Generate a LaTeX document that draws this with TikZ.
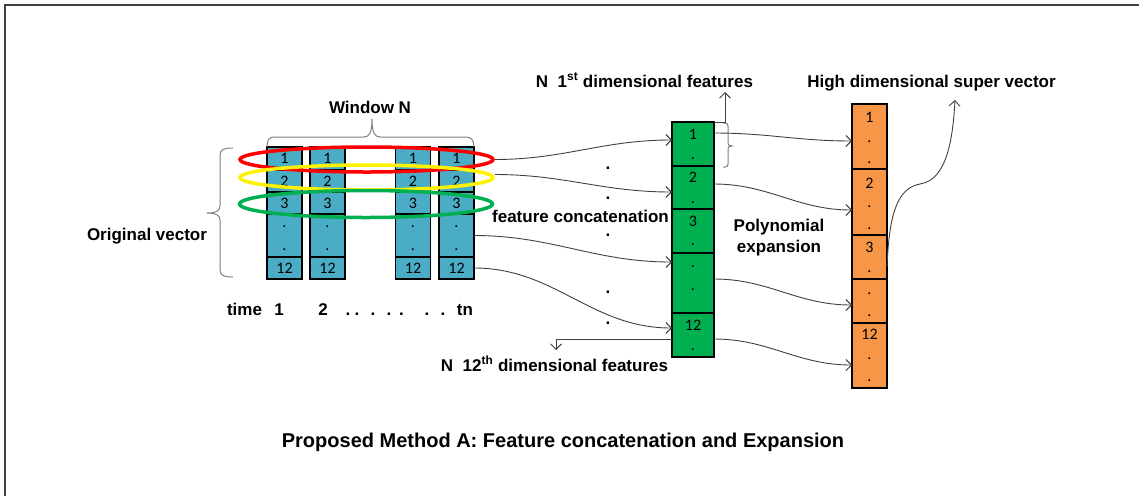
\documentclass[tikz,border=0pt]{standalone}
\usepackage{fontspec}
\setmainfont{Liberation Sans}
\newfontfamily\numfont{Carlito}
\usetikzlibrary{shapes.geometric,arrows.meta,calc}

\definecolor{cellblue}{HTML}{4BACC6}
\definecolor{cellgreen}{HTML}{00B050}
\definecolor{cellorange}{HTML}{F79646}
\definecolor{linkgray}{HTML}{404040}
\definecolor{bracegray}{HTML}{808080}

\begin{document}
\begin{tikzpicture}[x=1pt,y=-1pt,
  cellbase/.style={draw=black, line width=1.2pt, inner sep=0pt, outer sep=0pt,
    font=\numfont\fontsize{16}{18}\selectfont},
  bcell/.style={cellbase, fill=cellblue, minimum width=35pt},
  gcell/.style={cellbase, fill=cellgreen, minimum width=42pt},
  ocell/.style={cellbase, fill=cellorange, minimum width=35pt},
  num/.style={inner sep=0pt, font=\numfont\fontsize{16}{18}\selectfont},
  lbl/.style={inner sep=0pt, anchor=base, font=\fontsize{17}{21}\selectfont\bfseries},
  link/.style={draw=linkgray, line width=0.9pt, -{Straight Barb[length=5.5pt,width=11pt]}},
  ring/.style={ellipse, draw=#1, line width=3.5pt, minimum width=253pt,
    minimum height=25pt, inner sep=0pt},
  brc/.style={draw=bracegray, line width=1pt},
]
\useasboundingbox (0,0) rectangle (1139,496);

% frame
\draw[line width=2pt, draw=linkgray] (5,496) -- (5,5) -- (1139,5);

% original vectors, one column per time step
\foreach \c/\x in {1/284.5,2/327.5,3/413,4/456.5}{
  \node[bcell, minimum height=23pt] (b\c-1) at (\x,158.5) {1};
  \node[bcell, minimum height=22pt] (b\c-2) at (\x,181) {2};
  \node[bcell, minimum height=22pt] (b\c-3) at (\x,203) {3};
  \node[bcell, minimum height=43pt] (b\c-4) at (\x,235.5) {};
  \node[bcell, minimum height=22pt] (b\c-5) at (\x,268) {12};
  \node[num] (b\c-d1) at (\x,227) {.};
  \node[num] (b\c-d2) at (\x,250) {.};
}

% rings grouping equal dimensions across the window
\node[ring=red] (ringA) at (366.5,159.5) {};
\node[ring=yellow] (ringB) at (366.5,177.5) {};
\node[ring=cellgreen, minimum height=27pt] (ringC) at (366,204) {};

% concatenated feature column
\node[gcell, minimum height=44pt] (g1) at (693,144) {};
\node[gcell, minimum height=43pt] (g2) at (693,187.5) {};
\node[gcell, minimum height=44pt] (g3) at (693,231) {};
\node[gcell, minimum height=60pt] (g4) at (693,283) {};
\node[gcell, minimum height=44pt] (g5) at (693,335) {};
\foreach \n/\t/\y in {gl1/1/134, gd1/./159, gl2/2/177, gd2/./203, gl3/3/221,
    gd3/./245, gd4a/./267, gd4b/./290, gl5/12/325, gd5/./350}
  \node[num] (\n) at (693,\y) {\t};

% expanded super vector
\node[ocell, minimum height=65pt] (o1) at (869.5,136.5) {};
\node[ocell, minimum height=66pt] (o2) at (869.5,202) {};
\node[ocell, minimum height=44pt] (o3) at (869.5,257) {};
\node[ocell, minimum height=44pt] (o4) at (869.5,301) {};
\node[ocell, minimum height=65pt] (o5) at (869.5,355.5) {};
\foreach \n/\t/\y in {ol1/1/117, od1a/./142, od1b/./163, ol2/2/183, od2a/./207,
    od2b/./229, ol3/3/247, od3/./272, od4a/./294, od4b/./316, ol5/12/334,
    od5a/./359, od5b/./381}
  \node[num] (\n) at (869.5,\y) {\t};

% braces
\draw[brc] (267,147) .. controls (267,140) and (269,137) .. (274,137) -- (364,137)
  .. controls (369,137) and (372,133) .. (372,119)
  .. controls (372,133) and (375,137) .. (380,137) -- (466,137)
  .. controls (471,137) and (474,140) .. (474,147);
\draw[brc] (233,148) .. controls (225,148) and (220,149) .. (220,155) -- (220,206)
  .. controls (220,211) and (216,213) .. (207,213)
  .. controls (216,213) and (220,215) .. (220,220) -- (220,270)
  .. controls (220,276) and (225,277) .. (233,277);
\draw[brc] (723,123) -- (725,123) .. controls (727,123) and (728,124) .. (728,126)
  -- (728,143) .. controls (728,145) and (729,146) .. (732,146)
  .. controls (729,146) and (728,147) .. (728,149) -- (728,164)
  .. controls (728,166) and (727,167) .. (725,167) -- (723,167);

% labels
\node[lbl] (winN) at (370,113) {Window N};
\node[lbl] (orig) at (147,240) {Original vector};
\node[lbl] (feat1) at (644.5,87) {N\ \ 1\textsuperscript{st} dimensional features};
\node[lbl] (hdsv) at (931.5,87) {High dimensional super vector};
\node[lbl] (fcat) at (580.5,222) {feature concatenation};
\node[lbl, align=center] (poly) at (779,252) {Polynomial\\expansion};
\node[lbl] (feat12) at (554.5,371) {N\ \ 12\textsuperscript{th} dimensional features};
\node[lbl] (tlab) at (244.5,315) {time};
\node[lbl] (t1) at (279,315) {1};
\node[lbl] (t2) at (323,315) {2};
\foreach \i/\x in {1/348,2/357,3/373,4/389,5/401.5,6/427,7/443}
  \node[lbl] (tdot\i) at (\x,315) {.};
\node[lbl] (tn) at (465,315) {tn};
\node[lbl, font=\fontsize{20}{24}\selectfont\bfseries] (title) at (563,447)
  {Proposed Method A: Feature concatenation and Expansion};

% concatenation dots
\foreach \i/\y in {1/168,2/198,3/235,4/292,5/323}
  \node[lbl, anchor=center] (cdot\i) at (608,\y) {.};

% connectors: window columns -> concatenated features
\draw[link] (ringA.east) to[out=0,in=180] ([yshift=4pt]g1.west);
\draw[link] ([yshift=3pt]ringB.east) to[out=0,in=180] ([yshift=-4.5pt]g2.west);
\draw[link] (b4-4.east) to[out=0,in=180] ([yshift=21pt]g4.west);
\draw[link] (b4-5.east) to[out=0,in=180] ([yshift=7pt]g5.west);

% connectors: concatenated features -> super vector
\draw[link] ([yshift=11pt]g1.east) to[out=0,in=180] ([yshift=-4.5pt]o1.west);
\draw[link] ([yshift=3.5pt]g2.east) to[out=0,in=180] ([yshift=-8pt]o2.west);
\draw[link] ([yshift=4pt]g4.east) to[out=0,in=180] ([yshift=-4pt]o4.west);
\draw[link] ([yshift=-4pt]g5.east) to[out=0,in=180] ([yshift=-9.5pt]o5.west);

% pointers to the captions
\coordinate (tip1) at (725,92);
\coordinate (tip12) at (556,350);
\coordinate (tipHD) at (955,100);
\draw[link] (g1.north east) -| (tip1);
\draw[link] ([yshift=-4pt]g5.west) -| (tip12);
\draw[link] ([yshift=-10pt]o3.east) .. controls (889,215) and (897,188) .. (920,184)
  .. controls (948,180) and (953,135) .. (tipHD);
\end{tikzpicture}
\end{document}
